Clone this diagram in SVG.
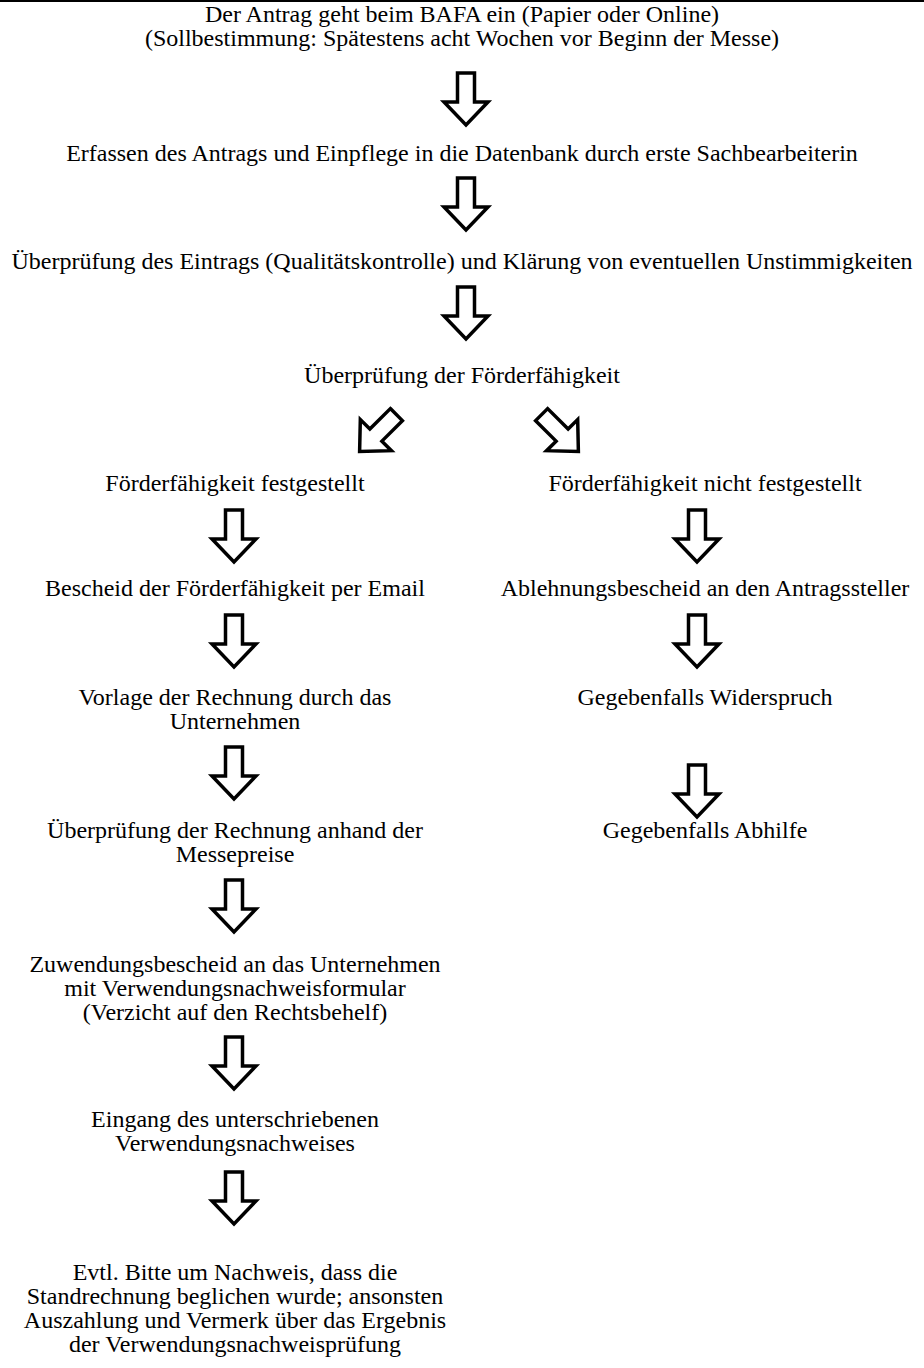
<svg xmlns="http://www.w3.org/2000/svg" width="924" height="1368" viewBox="0 0 924 1368">
<style>
text{font-family:"Liberation Serif","Times New Roman",serif;font-size:24px;fill:#000;text-anchor:middle}
.arr{fill:#fff;stroke:#000;stroke-width:3.5;stroke-linejoin:miter}
</style>
<defs>
<path id="a" class="arr" d="M-8.5,-26 H8.5 V3 H22 L0,26 L-22,3 H-8.5 Z"/>
</defs>
<rect x="0" y="0" width="924" height="2" fill="#000"/>
<g id="n1"><text x="462" y="22">Der Antrag geht beim BAFA ein (Papier oder Online)</text><text x="462" y="46">(Sollbestimmung: Spätestens acht Wochen vor Beginn der Messe)</text></g>
<g id="n2"><text x="462" y="161">Erfassen des Antrags und Einpflege in die Datenbank durch erste Sachbearbeiterin</text></g>
<g id="n3"><text x="462" y="269">Überprüfung des Eintrags (Qualitätskontrolle) und Klärung von eventuellen Unstimmigkeiten</text></g>
<g id="n4"><text x="462" y="383">Überprüfung der Förderfähigkeit</text></g>
<g id="n5"><text x="235" y="491">Förderfähigkeit festgestellt</text></g>
<g id="n6"><text x="705" y="491">Förderfähigkeit nicht festgestellt</text></g>
<g id="n7"><text x="235" y="596">Bescheid der Förderfähigkeit per Email</text></g>
<g id="n8"><text x="705" y="596">Ablehnungsbescheid an den Antragssteller</text></g>
<g id="n9"><text x="235" y="705">Vorlage der Rechnung durch das</text><text x="235" y="729">Unternehmen</text></g>
<g id="n10"><text x="705" y="705">Gegebenfalls Widerspruch</text></g>
<g id="n11"><text x="235" y="838">Überprüfung der Rechnung anhand der</text><text x="235" y="862">Messepreise</text></g>
<g id="n12"><text x="705" y="838">Gegebenfalls Abhilfe</text></g>
<g id="n13"><text x="235" y="972">Zuwendungsbescheid an das Unternehmen</text><text x="235" y="996">mit Verwendungsnachweisformular</text><text x="235" y="1020">(Verzicht auf den Rechtsbehelf)</text></g>
<g id="n14"><text x="235" y="1127">Eingang des unterschriebenen</text><text x="235" y="1151">Verwendungsnachweises</text></g>
<g id="n15"><text x="235" y="1280">Evtl. Bitte um Nachweis, dass die</text><text x="235" y="1304">Standrechnung beglichen wurde; ansonsten</text><text x="235" y="1328">Auszahlung und Vermerk über das Ergebnis</text><text x="235" y="1352">der Verwendungsnachweisprüfung</text></g>
<g id="connectors">
<use href="#a" x="466" y="99"/>
<use href="#a" x="466" y="204"/>
<use href="#a" x="466" y="313"/>
<use href="#a" transform="translate(378,433) rotate(45)"/>
<use href="#a" transform="translate(560,433) rotate(-45)"/>
<use href="#a" x="234" y="536"/>
<use href="#a" x="697" y="536"/>
<use href="#a" x="234" y="641"/>
<use href="#a" x="697" y="641"/>
<use href="#a" x="234" y="773"/>
<use href="#a" x="697" y="791"/>
<use href="#a" x="234" y="906"/>
<use href="#a" x="234" y="1063"/>
<use href="#a" x="234" y="1198"/>
</g>
</svg>
